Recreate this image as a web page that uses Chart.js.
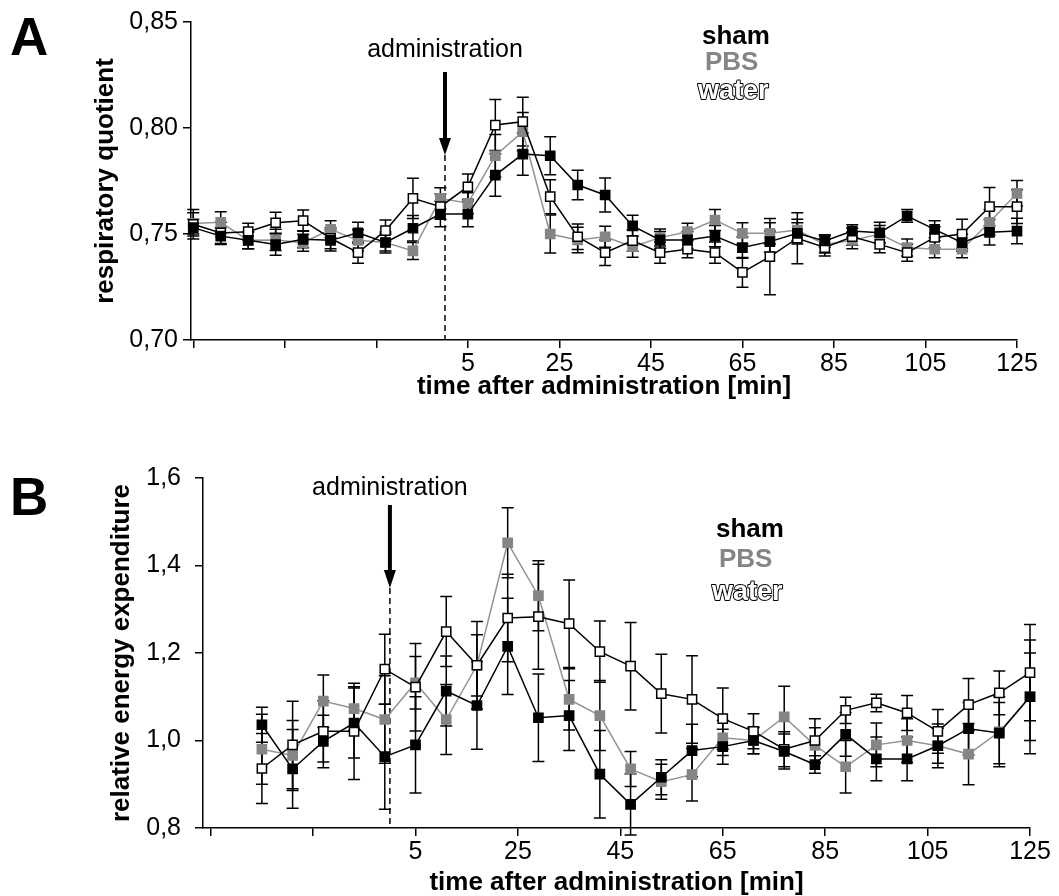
<!DOCTYPE html>
<html lang="en">
<head>
<meta charset="UTF-8" />
<title>Respiratory quotient and energy expenditure</title>
<script src="https://cdn.jsdelivr.net/npm/chart.js"></script>
<style>
  body { margin: 0; background: #fff; }
  #wrap { position: relative; width: 1059px; height: 896px; }
  canvas { position: absolute; left: 0; }
  #chartA { top: 0; }
  #chartB { top: 440px; }
</style>
</head>
<body>
<div id="wrap">
  <canvas id="chartA" width="1059" height="420"></canvas>
  <canvas id="chartB" width="1059" height="456"></canvas>
</div>
<script>
  const seriesNames = ['sham', 'PBS', 'water'];

  // panel A - respiratory quotient
  const timeA = [-55, -49, -43, -37, -31, -25, -19, -13, -7, -1, 5, 11, 17, 23, 29, 35,
                 41, 47, 53, 59, 65, 71, 77, 83, 89, 95, 101, 107, 113, 119, 125];
  const ticksA = [-55, -35, -15, 5, 25, 45, 65, 85, 105, 125];
  const shamA = [0.753, 0.749, 0.747, 0.745, 0.7475, 0.747, 0.7506, 0.746, 0.7527, 0.7594, 0.7594,
                 0.7778, 0.7877, 0.7869, 0.7731, 0.7684, 0.7538, 0.7472, 0.7472, 0.749, 0.7436,
                 0.7464, 0.7503, 0.7467, 0.7514, 0.7506, 0.7585, 0.7522, 0.7459, 0.7508, 0.7514];
  const shamErrA = [0.004, 0.004, 0.004, 0.005, 0.004, 0.005, 0.005, 0.005, 0.006, 0.006, 0.006,
                    0.010, 0.010, 0.009, 0.007, 0.008, 0.005, 0.004, 0.004, 0.005, 0.005,
                    0.005, 0.005, 0.003, 0.003, 0.005, 0.003, 0.004, 0.004, 0.006, 0.006];
  const pbsA = [0.755, 0.7555, 0.747, 0.7472, 0.7459, 0.7522, 0.747, 0.746, 0.742, 0.7668, 0.7645,
                0.7869, 0.7983, 0.750, 0.7472, 0.7487, 0.744, 0.7483, 0.7511, 0.7566, 0.7503,
                0.7503, 0.7519, 0.745, 0.747, 0.750, 0.7436, 0.7428, 0.7428, 0.7555, 0.7692];
  const pbsErrA = [0.005, 0.005, 0.004, 0.005, 0.004, 0.004, 0.005, 0.004, 0.004, 0.005, 0.005,
                   0.010, 0.009, 0.009, 0.006, 0.005, 0.005, 0.004, 0.004, 0.005, 0.005,
                   0.005, 0.005, 0.004, 0.004, 0.004, 0.004, 0.004, 0.004, 0.006, 0.006];
  const waterA = [0.7546, 0.7505, 0.7511, 0.7553, 0.7563, 0.748, 0.7412, 0.7516, 0.7668, 0.7629, 0.7723,
                  0.8014, 0.803, 0.7676, 0.7487, 0.7412, 0.7469, 0.7412, 0.7428, 0.7412, 0.7319,
                  0.7393, 0.748, 0.7436, 0.7487, 0.7451, 0.7412, 0.7484, 0.750, 0.7629, 0.7629];
  const waterErrA = [0.007, 0.005, 0.004, 0.005, 0.005, 0.005, 0.005, 0.005, 0.0095, 0.006, 0.006,
                     0.012, 0.0115, 0.008, 0.006, 0.006, 0.005, 0.005, 0.004, 0.005, 0.007,
                     0.018, 0.012, 0.004, 0.004, 0.004, 0.004, 0.005, 0.007, 0.009, 0.008];

  // panel B - relative energy expenditure
  const timeB = [-25, -19, -13, -7, -1, 5, 11, 17, 23, 29, 35, 41, 47, 53, 59, 65,
                 71, 77, 83, 89, 95, 101, 107, 113, 119, 125];
  const ticksB = [-35, -15, 5, 25, 45, 65, 85, 105, 125];
  const shamB = [1.036, 0.935, 0.998, 1.040, 0.963, 0.990, 1.113, 1.080, 1.215, 1.052, 1.057, 0.923, 0.854,
                 0.916, 0.977, 0.986, 1.000, 0.975, 0.945, 1.014, 0.958, 0.958, 0.988, 1.027, 1.017, 1.100];
  const shamErrB = [0.04, 0.09, 0.06, 0.08, 0.12, 0.11, 0.08, 0.10, 0.11, 0.10, 0.08, 0.10, 0.07,
                    0.04, 0.06, 0.04, 0.03, 0.04, 0.02, 0.05, 0.05, 0.05, 0.05, 0.06, 0.07, 0.13];
  const pbsB = [0.980, 0.966, 1.090, 1.073, 1.048, 1.132, 1.048, 1.172, 1.452, 1.331, 1.094, 1.057, 0.935,
                0.906, 0.922, 1.006, 1.000, 1.054, 0.989, 0.940, 0.990, 1.000, 0.988, 0.969, 1.020, 1.100];
  const pbsErrB = [0.08, 0.08, 0.06, 0.05, 0.10, 0.06, 0.08, 0.07, 0.08, 0.08, 0.07, 0.08, 0.04,
                   0.04, 0.06, 0.04, 0.03, 0.07, 0.04, 0.06, 0.05, 0.05, 0.04, 0.07, 0.08, 0.10];
  const waterB = [0.936, 0.990, 1.021, 1.021, 1.163, 1.122, 1.249, 1.172, 1.280, 1.283, 1.267, 1.203, 1.170,
                  1.107, 1.094, 1.050, 1.021, 0.980, 1.000, 1.069, 1.086, 1.063, 1.021, 1.082, 1.109, 1.155];
  const waterErrB = [0.08, 0.10, 0.07, 0.11, 0.08, 0.10, 0.08, 0.10, 0.10, 0.12, 0.10, 0.07, 0.10,
                     0.09, 0.10, 0.07, 0.04, 0.04, 0.05, 0.03, 0.02, 0.04, 0.05, 0.06, 0.05, 0.11];

  const FONT = '"Liberation Sans", Arial, Helvetica, sans-serif';
  Chart.defaults.font.family = FONT;
  Chart.defaults.color = '#000';

  const GREY = '#858585';

  // vertical error bars, drawn through the y scale
  const errorBars = {
    id: 'errorBars',
    beforeDatasetsDraw(chart) {
      const ctx = chart.ctx;
      const y = chart.scales.y;
      ctx.save();
      ctx.strokeStyle = '#000';
      ctx.lineWidth = 1.5;
      chart.data.datasets.forEach((ds, i) => {
        const meta = chart.getDatasetMeta(i);
        meta.data.forEach((pt, j) => {
          const v = ds.data[j].y, e = ds.errors[j];
          const top = y.getPixelForValue(v + e);
          const bot = y.getPixelForValue(v - e);
          ctx.beginPath();
          ctx.moveTo(pt.x, top); ctx.lineTo(pt.x, bot);
          ctx.moveTo(pt.x - 6, top); ctx.lineTo(pt.x + 6, top);
          ctx.moveTo(pt.x - 6, bot); ctx.lineTo(pt.x + 6, bot);
          ctx.stroke();
        });
      });
      ctx.restore();
    }
  };

  // panel letter, administration marker and text legend
  const annot = {
    id: 'annot',
    beforeDatasetsDraw(chart, args, o) {
      const ctx = chart.ctx;
      const x0 = chart.scales.x.getPixelForValue(0);
      const bottom = chart.chartArea.bottom;
      ctx.save();
      ctx.fillStyle = '#000';
      ctx.strokeStyle = '#000';
      ctx.textAlign = 'left';
      ctx.textBaseline = 'alphabetic';
      ctx.font = 'bold 53px ' + FONT;
      ctx.fillText(o.letter, 10, o.letterY);

      ctx.font = '25px ' + FONT;
      ctx.textAlign = 'center';
      ctx.fillText('administration', x0, o.textY);

      ctx.lineWidth = 4;
      ctx.beginPath();
      ctx.moveTo(x0, o.arrowTop);
      ctx.lineTo(x0, o.headY + 2);
      ctx.stroke();
      ctx.beginPath();
      ctx.moveTo(x0 - 6, o.headY);
      ctx.lineTo(x0 + 6, o.headY);
      ctx.lineTo(x0, o.tipY);
      ctx.closePath();
      ctx.fill();

      ctx.lineWidth = 1.5;
      ctx.setLineDash([6, 4]);
      ctx.beginPath();
      ctx.moveTo(x0, o.tipY);
      ctx.lineTo(x0, bottom);
      ctx.stroke();
      ctx.setLineDash([]);

      ctx.textAlign = 'left';
      ctx.font = 'bold 26px ' + FONT;
      ctx.fillStyle = '#000';
      ctx.fillText(seriesNames[0], o.legX, o.legY[0]);
      ctx.fillStyle = GREY;
      ctx.fillText(seriesNames[1], o.legX + 3, o.legY[1]);
      ctx.font = 'bold 27px ' + FONT;
      ctx.lineWidth = 2;
      ctx.lineJoin = 'round';
      ctx.strokeText(seriesNames[2], o.legX - 4, o.legY[2]);
      ctx.fillStyle = '#fff';
      ctx.fillText(seriesNames[2], o.legX - 4, o.legY[2]);
      ctx.restore();
    }
  };

  function makeDatasets(time, sham, shamErr, pbs, pbsErr, water, waterErr) {
    const pts = arr => time.map((t, i) => ({ x: t, y: arr[i] }));
    const base = { pointStyle: 'rect', pointRadius: 6.5, pointHoverRadius: 6.5, borderWidth: 1.5, clip: false };
    return [
      { ...base, label: seriesNames[0], data: pts(sham), errors: shamErr,
        borderColor: '#000', backgroundColor: '#000', pointBackgroundColor: '#000', pointBorderColor: '#000' },
      { ...base, label: seriesNames[2], data: pts(water), errors: waterErr,
        borderColor: '#000', backgroundColor: '#fff', pointBackgroundColor: '#fff', pointBorderColor: '#000', pointBorderWidth: 1.5 },
      { ...base, label: seriesNames[1], data: pts(pbs), errors: pbsErr,
        borderColor: '#939393', backgroundColor: GREY, pointBackgroundColor: GREY, pointBorderColor: GREY }
    ];
  }

  function axisGrid() {
    return { display: true, drawOnChartArea: false, drawTicks: true, tickLength: 8, color: '#000', lineWidth: 1.5 };
  }

  function makeChart(id, cfg) {
    return new Chart(document.getElementById(id), {
      type: 'line',
      data: { datasets: cfg.datasets },
      plugins: [errorBars, annot],
      options: {
        responsive: false,
        devicePixelRatio: 1,
        animation: false,
        events: [],
        layout: { padding: cfg.padding },
        plugins: { legend: { display: false }, tooltip: { enabled: false }, annot: cfg.annot },
        scales: {
          x: {
            type: 'linear', min: cfg.xMin, max: 125,
            afterBuildTicks: s => { s.ticks = cfg.xTicks.map(v => ({ value: v })); },
            afterFit: s => { s.height = cfg.xHeight; },
            grid: axisGrid(),
            border: { display: true, color: '#000', width: 1.5 },
            ticks: { autoSkip: false, maxRotation: 0, padding: 1, font: { size: 25 },
                     callback: v => (v >= 5 ? String(v) : '') },
            title: { display: true, text: 'time after administration [min]',
                     font: { size: 26, weight: 'bold', lineHeight: 1 }, padding: { top: 0, bottom: cfg.xTitlePad } }
          },
          y: {
            min: cfg.yMin, max: cfg.yMax,
            afterBuildTicks: s => { s.ticks = cfg.yTicks.map(v => ({ value: v })); },
            afterFit: s => { s.width = cfg.yWidth; },
            grid: axisGrid(),
            border: { display: true, color: '#000', width: 1.5 },
            ticks: { padding: cfg.yTickPad, font: { size: 25 },
                     callback: v => v.toFixed(cfg.dec).replace('.', ',') },
            title: { display: true, text: cfg.yTitle,
                     font: { size: 26, weight: 'bold', lineHeight: 1 }, padding: { top: cfg.yTitlePad, bottom: 0 } }
          }
        }
      }
    });
  }

  makeChart('chartA', {
    datasets: makeDatasets(timeA, shamA, shamErrA, pbsA, pbsErrA, waterA, waterErrA),
    padding: { top: 22, right: 42, left: 0, bottom: 0 },
    xMin: -55.5, xTicks: ticksA, xHeight: 80, xTitlePad: 20,
    yMin: 0.70, yMax: 0.85, yTicks: [0.70, 0.75, 0.80, 0.85], dec: 2,
    yWidth: 191, yTickPad: 5, yTitle: 'respiratory quotient', yTitlePad: 93,
    annot: { letter: 'A', letterY: 55, textY: 57, arrowTop: 72, headY: 138, tipY: 155,
             legX: 702, legY: [44, 70, 99] }
  });

  makeChart('chartB', {
    datasets: makeDatasets(timeB, shamB, shamErrB, pbsB, pbsErrB, waterB, waterErrB),
    padding: { top: 38, right: 29, left: 0, bottom: 0 },
    xMin: -36.5, xTicks: ticksB, xHeight: 68, xTitlePad: 0,
    yMin: 0.8, yMax: 1.6, yTicks: [0.8, 1.0, 1.2, 1.4, 1.6], dec: 1,
    yWidth: 203, yTickPad: 14, yTitle: 'relative energy expenditure', yTitlePad: 109,
    annot: { letter: 'B', letterY: 75, textY: 55, arrowTop: 65, headY: 130, tipY: 148,
             legX: 716, legY: [97, 127, 160] }
  });
</script>
</body>
</html>
